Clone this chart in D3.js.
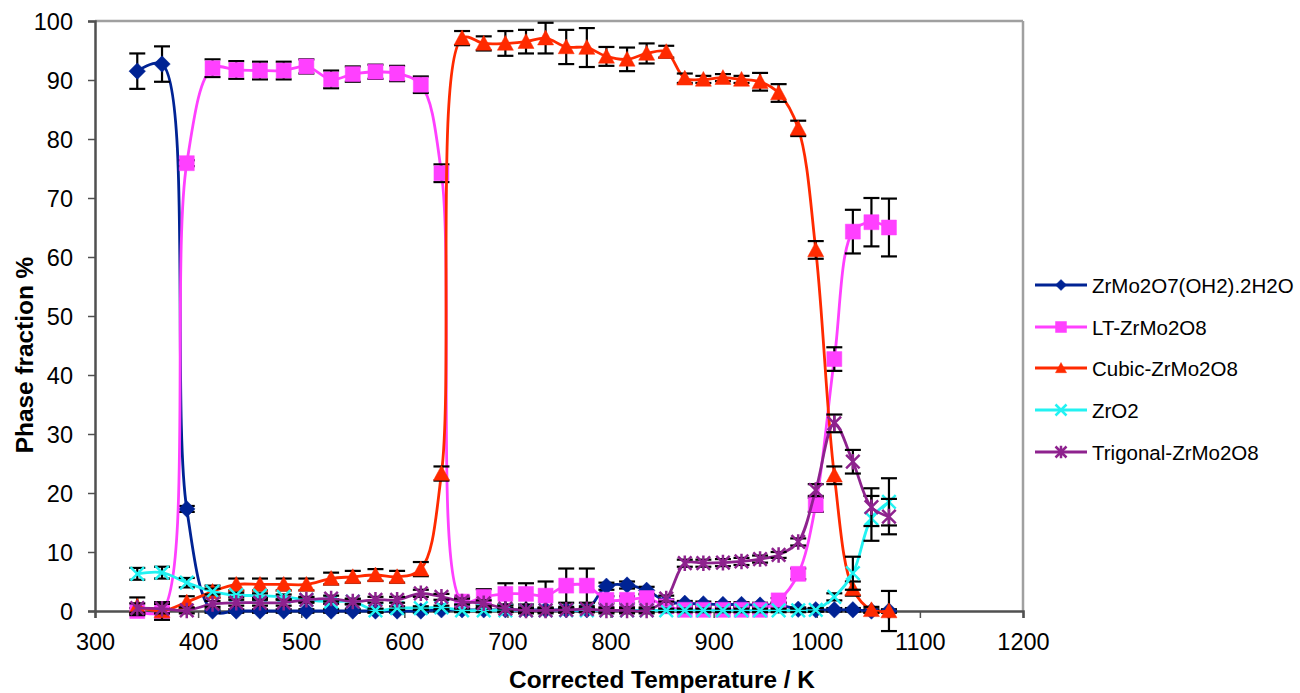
<!DOCTYPE html>
<html><head><meta charset="utf-8">
<script src="https://cdn.jsdelivr.net/npm/d3@7"></script>
<style>body{margin:0;background:#fff}svg{display:block}</style>
</head><body><svg id="c" width="1300" height="693"></svg>
<script>
// ---------- data ----------
const temps = [341,365,389,414,437,460,483,505,529,550,572,593,616,636,656,677,698,718,737,757,777,796,816,835,854,872,890,909,927,945,963,982,999,1017,1035,1053,1070];
const hydrate    = [91.5,92.7,17.3,0,0,0,0,0,0,0,0,0,0,0.2,0.2,0.2,0.2,0.2,0.2,0.2,0.2,4.2,4.4,3.5,1.6,1.3,1.2,1.1,1.1,1.0,1.0,0.3,0.2,0.2,0.2,0,0];
const hydrateErr = [3,3,0.5,0.3,0.3,0.3,0.3,0.3,0.3,0.3,0.3,0.3,0.3,0.3,0.3,0.3,0.3,0.3,0.3,0.3,0.3,0.6,0.6,0.6,0.4,0.4,0.4,0.4,0.4,0.4,0.4,0.3,0.3,0.3,0.3,0.3,0.3];
const lt         = [0,0,75.9,92.0,91.7,91.6,91.6,92.3,90.1,91.0,91.4,91.1,89.2,74.2,1.6,2.4,2.9,2.9,2.6,4.3,4.3,1.9,1.9,2.2,0.8,0.2,0.2,0.2,0.2,0.2,1.8,6.3,18.0,42.7,64.3,65.9,65.0];
const ltErr      = [0.5,0.5,0.5,1.5,1.5,1.5,1.5,1.2,1.5,1.3,1.2,1.3,1.4,1.5,0.8,1.3,1.8,1.8,2.4,2.9,2.9,0.6,0.6,0.6,0.4,0.4,0.4,0.4,0.4,0.4,0.4,0.9,1.2,2.0,3.7,4.1,4.9];
const cubic      = [0.8,0,1.5,3.3,4.5,4.5,4.5,4.5,5.5,5.8,6.1,5.8,7.1,23.3,97.1,96.2,96.2,96.5,97.1,95.6,95.5,94.0,93.5,94.5,94.8,90.3,90.1,90.4,90.1,89.7,87.8,81.8,61.2,23.0,3.8,0.2,0];
const cubicErr   = [1.5,1.5,1.0,1.0,1.0,1.0,1.0,1.0,1.0,1.0,1.0,1.0,1.2,1.2,1.2,1.2,2.1,2.0,2.6,2.9,3.3,1.6,2.0,1.7,1.0,0.8,0.6,0.6,0.6,1.5,1.5,1.3,1.5,1.5,1.2,0.5,3.4];
const zro2       = [6.3,6.5,4.8,3.3,2.7,2.6,2.4,1.9,1.6,1.6,0.1,0.5,0.5,0.6,0.1,0.1,0.1,0.1,0.1,0.1,0.1,0.1,0.1,0.1,0.1,0.1,0.1,0.1,0.1,0.1,0.1,0.1,0.2,2.4,6.4,15.7,18.5];
const zro2Err    = [1.0,1.0,0.8,0.5,0.4,0.4,0.4,0.4,0.4,0.4,0.3,0.3,0.3,0.3,0.3,0.3,0.3,0.3,0.3,0.3,0.3,0.3,0.3,0.3,0.3,0.3,0.3,0.3,0.3,0.3,0.3,0.3,0.3,0.6,2.8,3.8,4.0];
const trig       = [0.5,0.4,0.1,1.2,1.4,1.4,1.4,1.9,2.1,1.6,1.9,1.9,3.0,2.4,1.6,1.3,0.4,0.1,0.1,0.2,0.3,0.1,0.1,0.1,2.1,8.1,8.1,8.2,8.4,8.8,9.5,11.7,20.5,31.8,25.3,17.6,16.0];
const trigErr    = [0.8,0.8,0.5,0.5,0.5,0.5,0.5,0.5,0.5,0.5,0.5,0.5,0.6,0.5,0.5,0.5,0.5,0.5,0.5,0.5,0.5,0.5,0.5,0.5,0.5,0.6,0.6,0.6,0.6,0.6,0.5,0.6,1.0,1.5,2.0,3.2,3.0];

const seriesNames  = ["ZrMo2O7(OH2).2H2O","LT-ZrMo2O8","Cubic-ZrMo2O8","ZrO2","Trigonal-ZrMo2O8"];
const seriesValues = [hydrate, lt, cubic, zro2, trig];
const seriesErrors = [hydrateErr, ltErr, cubicErr, zro2Err, trigErr];
const seriesColors = ["#002394","#FF40FF","#FF2A00","#22F2F2","#8E228E"];
const seriesMarkers = ["diamond","square","triangle","x","star"];

const xTicks = [300,400,500,600,700,800,900,1000,1100,1200];
const yTicks = [0,10,20,30,40,50,60,70,80,90,100];
const xTitle = "Corrected Temperature / K";
const yTitle = "Phase fraction %";

// ---------- layout ----------
const svg = d3.select("#c");
const L = 95, R = 1023, T = 21, B = 611;
const x = d3.scaleLinear().domain([300,1200]).range([L,R]);
const y = d3.scaleLinear().domain([0,100]).range([B,T]);
const font = "'Liberation Sans', Arial, sans-serif";

// frame
svg.append("line").attr("x1",L).attr("x2",R).attr("y1",T).attr("y2",T).attr("stroke","#a0a0a0").attr("stroke-width",2.5);
svg.append("line").attr("x1",R).attr("x2",R).attr("y1",T).attr("y2",B).attr("stroke","#a0a0a0").attr("stroke-width",2.5);

// axes
const yAxis = d3.axisLeft(y).tickValues(yTicks).tickSize(7).tickPadding(15).tickFormat(d3.format("d"));
const gy = svg.append("g").attr("transform",`translate(${L},0)`).call(yAxis);
const xAxis = d3.axisBottom(x).tickValues(xTicks).tickSize(7).tickPadding(14).tickFormat(d3.format("d"));
const gx = svg.append("g").attr("transform",`translate(0,${B})`).call(xAxis);
[gx,gy].forEach(g=>{
  g.select(".domain").attr("stroke","#505050").attr("stroke-width",2.5);
  g.selectAll(".tick line").attr("stroke","#505050").attr("stroke-width",1.5);
  g.selectAll(".tick text").attr("font-family",font).attr("font-size",23.5).attr("fill","#000");
});
gy.selectAll(".tick text").attr("dy","0.36em");
gx.selectAll(".tick text").attr("dy","0.75em");

svg.append("text").attr("x",662).attr("y",688).attr("text-anchor","middle")
  .attr("font-family",font).attr("font-weight","bold").attr("font-size",24.4).text(xTitle);
svg.append("text").attr("transform",`translate(33,355) rotate(-90)`).attr("text-anchor","middle")
  .attr("font-family",font).attr("font-weight","bold").attr("font-size",24.4).text(yTitle);

// ---------- markers ----------
function markerPath(type, s){
  const h = s/2;
  switch(type){
    case "diamond": return `M0,${-h}L${h},0L0,${h}L${-h},0Z`;
    case "square": return `M${-h},${-h}H${h}V${h}H${-h}Z`;
    case "triangle": return `M0,${-h}L${h},${h*0.85}L${-h},${h*0.85}Z`;
    case "x": return `M${-h},${-h}L${h},${h}M${h},${-h}L${-h},${h}`;
    case "star": return `M${-h},${-h}L${h},${h}M${h},${-h}L${-h},${h}M0,${-h*1.15}V${h*1.15}`;
  }
}
const markerSize = {diamond:16.5, square:15, triangle:16, x:13.5, star:13.5};
function drawMarker(g, type, color, cx, cy, s){
  const stroke = (type==="x"||type==="star");
  g.append("path").attr("transform",`translate(${cx},${cy})`).attr("d",markerPath(type,s))
    .attr("fill", stroke ? "none" : color)
    .attr("stroke", color).attr("stroke-width", stroke ? 2.5 : 0.5);
}

const line = d3.line().x(d=>x(d[0])).y(d=>y(d[1])).curve(d3.curveCatmullRom.alpha(0.5));
const plot = svg.append("g");
seriesValues.forEach((vals,si)=>{
  const g = plot.append("g");
  const pts = temps.map((t,i)=>[t,vals[i]]);
  g.append("path").attr("d",line(pts)).attr("fill","none").attr("stroke",seriesColors[si]).attr("stroke-width",2.8);
  const eb = g.append("g").attr("stroke","#000").attr("stroke-width",2.2);
  pts.forEach((p,i)=>{
    const e = seriesErrors[si][i];
    const cx = x(p[0]);
    const y1 = y(p[1]+e), y2 = y(p[1]-e);
    eb.append("line").attr("x1",cx).attr("x2",cx).attr("y1",y1).attr("y2",y2);
    eb.append("line").attr("x1",cx-8).attr("x2",cx+8).attr("y1",y1).attr("y2",y1);
    eb.append("line").attr("x1",cx-8).attr("x2",cx+8).attr("y1",y2).attr("y2",y2);
  });
  pts.forEach(p=>drawMarker(g, seriesMarkers[si], seriesColors[si], x(p[0]), y(p[1]), markerSize[seriesMarkers[si]]));
});

// ---------- legend ----------
const legendY = [285, 327, 368, 410, 452];
seriesNames.forEach((name,i)=>{
  const g = svg.append("g").attr("transform",`translate(0,${legendY[i]})`);
  g.append("line").attr("x1",1035).attr("x2",1087).attr("y1",0).attr("y2",0).attr("stroke",seriesColors[i]).attr("stroke-width",2.8);
  drawMarker(g, seriesMarkers[i], seriesColors[i], 1061, 0, 11);
  g.append("text").attr("x",1092).attr("y",7.5).attr("font-family",font).attr("font-size",20.5).attr("fill","#000").text(name);
});
</script>
</body></html>
